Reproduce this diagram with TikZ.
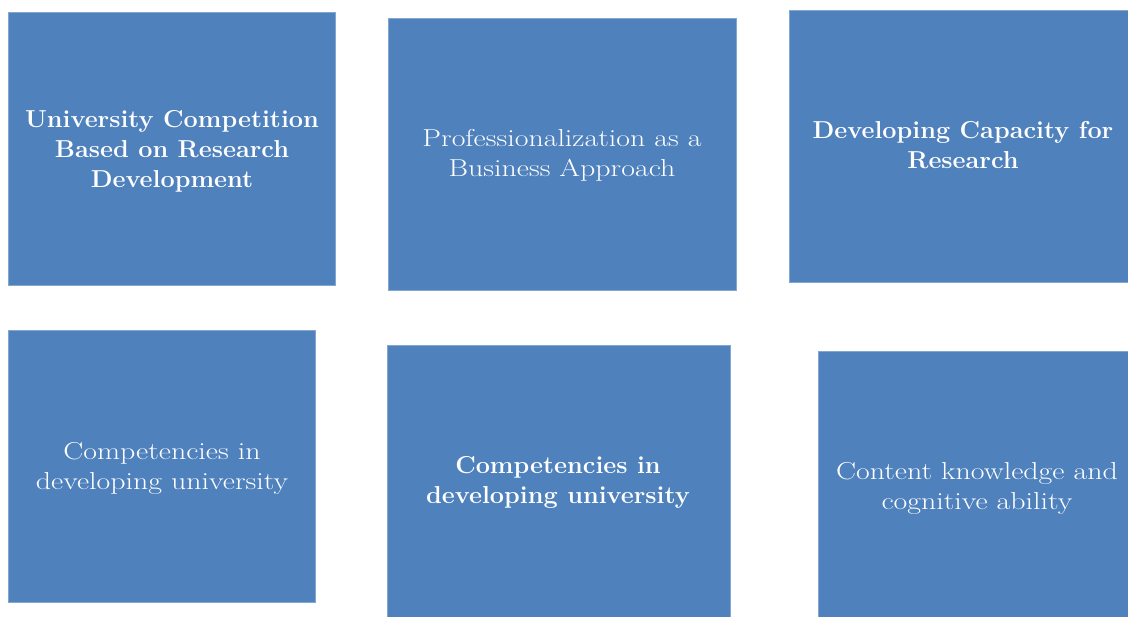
\documentclass[tikz,border=0pt]{standalone}
\usepackage{fontspec}
\setmainfont{Latin Modern Roman}
\newfontfamily\regfont[FakeStretch=1.22]{Latin Modern Roman}
\newfontfamily\boldfont[FakeStretch=1.03]{Latin Modern Roman}
\definecolor{boxblue}{HTML}{4F81BD}
\begin{document}
\begin{tikzpicture}[x=1pt,y=-1pt,
  box/.style={fill=boxblue,draw=boxblue!70!white,line width=0.6pt},
  lbl/.style={text=white,align=center,font=\regfont\fontsize{24.5}{30}\selectfont},
  blbl/.style={text=white,align=center,font=\boldfont\fontsize{24.5}{30}\selectfont\bfseries}]
\useasboundingbox (0,0) rectangle (1128,617);
\path[box] (8,12.5) rectangle (335,285);
\path[box] (388,18) rectangle (736,290);
\path[box] (789,10) rectangle (1128,282);
\path[box] (8,330) rectangle (315,602);
\path[box] (387,345) rectangle (730,617);
\path[box] (818,351) rectangle (1128,617);
\node[blbl] (t1) at (172,151) {University Competition\\Based on Research\\Development};
\node[lbl] (t2) at (562,155) {Professionalization as a\\Business Approach};
\node[blbl] (t3) at (963,145) {Developing Capacity for\\Research};
\node[lbl] (t4) at (162,468) {Competencies in\\developing university};
\node[blbl] (t5) at (558,482) {Competencies in\\developing university};
\node[lbl] (t6) at (977,488) {Content knowledge and\\cognitive ability};
\end{tikzpicture}
\end{document}
